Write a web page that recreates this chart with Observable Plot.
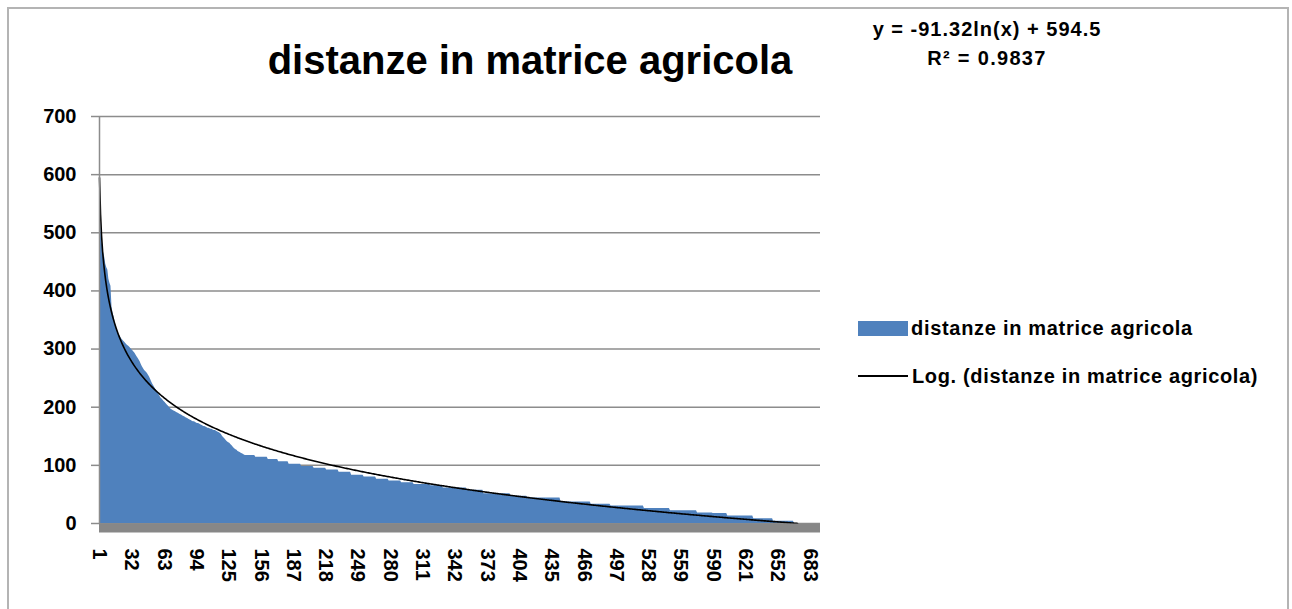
<!DOCTYPE html>
<html><head><meta charset="utf-8">
<script src="https://cdn.jsdelivr.net/npm/d3@7"></script>
<script src="https://cdn.jsdelivr.net/npm/@observablehq/plot@0.6"></script>
<style>
body{margin:0;background:#fff;}
#wrap{position:relative;width:1292px;height:609px;overflow:hidden;font-family:"Liberation Sans",Arial,sans-serif;font-weight:bold;color:#000;}
#frame{position:absolute;left:7px;top:7px;width:1282px;height:640px;border:2px solid #b4b4b4;box-sizing:border-box;}
#chart{position:absolute;left:0;top:0;}
.t{position:absolute;white-space:nowrap;}
#title{left:0;width:1060px;text-align:center;top:37px;font-size:40px;line-height:46px;}
#eq1{left:837px;width:300px;text-align:center;top:17px;font-size:20px;line-height:24px;letter-spacing:1px;}
#eq2{left:837px;width:300px;text-align:center;top:46px;font-size:20px;line-height:24px;letter-spacing:1.3px;}
#sw{position:absolute;left:858px;top:321px;width:50px;height:15px;background:#4F81BD;}
#ln{position:absolute;left:858px;top:375px;width:50px;height:1.5px;background:#000;}
#lg1{left:911px;top:316px;font-size:20px;line-height:24px;letter-spacing:0.7px;}
#lg2{left:912px;top:364px;font-size:20px;line-height:24px;letter-spacing:0.65px;}
</style></head>
<body>
<div id="wrap">
  <div id="frame"></div>
  <div id="chart"></div>
  <div class="t" id="title"></div>
  <div class="t" id="eq1"></div>
  <div class="t" id="eq2"></div>
  <div id="sw"></div><div class="t" id="lg1"></div>
  <div id="ln"></div><div class="t" id="lg2"></div>
</div>
<script>
// ---- data ----
const titleText = "distanze in matrice agricola";
const seriesName = "distanze in matrice agricola";
const trendName = "Log. (distanze in matrice agricola)";
const equationText = "y = -91.32ln(x) + 594.5";
const r2Text = "R² = 0.9837";
const trendSlope = -91.32;
const trendIntercept = 594.5;
const categoryCount = 693;

// first 140 categories, one value each
const headValues = [
  533,520,487,478,465,458,446,440,436,420,413,408,372,362,355,346,338,333,328,324,
  321,318,316,314,312,310,308,306,305,303,
  301,299,297,295,293,290,287,284,281,278,
  274,270,267,264,262,260,258,255,252,248,
  244,240,237,234,231,228,225,222,219,216,
  214,212,210,208,206,204,202,200,198,196,
  195,194,193,192,191,190,189,188,187,186,
  185,184,183,182,181,180,179,178,177,176,
  175,175,174,173,172,172,171,170,169,168,
  167,167,166,165,164,164,163,162,162,161,
  160,160,159,158,157,156,155,153,
  150,148,146,144,142,140,139,138,136,134,132,130,128,127,126,124,123,122,121,120,119,118
];
// remaining categories as plateaus: value and how many categories share it
const tailValues = [117,114,110,106,102,98,95,92,88,83,80,76,73,70,67,65,61,57,51,47,44,37,33,30,26,22,18,17,13,8,4,0];
const tailCounts = [10,12,10,10,12,12,12,12,12,12,12,12,12,12,16,12,23,16,26,16,32,29,19,32,25,26,15,14,25,19,20,26];

const xTickLabels = [1,32,63,94,125,156,187,218,249,280,311,342,373,404,435,466,497,528,559,590,621,652,683];
const yTickLabels = [0,100,200,300,400,500,600,700];

// ---- build table ----
const data = [];
headValues.forEach(v => data.push({i: data.length + 1, v}));
tailValues.forEach((v, k) => { for (let j = 0; j < tailCounts[k]; j++) data.push({i: data.length + 1, v}); });
const trend = data.map(d => ({i: d.i, v: trendSlope * Math.log(d.i) + trendIntercept})).filter(d => d.v >= 0);

const font = '"Liberation Sans", Arial, sans-serif';
const chart = Plot.plot({
  width: 840, height: 600,
  marginLeft: 99, marginRight: 20, marginTop: 116, marginBottom: 77,
  x: {domain: [1, categoryCount]},
  y: {domain: [0, 700]},
  style: {fontFamily: font, fontSize: "20px", fontWeight: "bold", color: "#000", background: "transparent", overflow: "visible"},
  marks: [
    Plot.gridY(yTickLabels, {stroke: "#8c8c8c", strokeOpacity: 1, strokeWidth: 1.5}),
    Plot.areaY(data, {x: "i", y: "v", fill: "#4F81BD"}),
    Plot.lineY(trend, {x: "i", y: "v", stroke: "#000", strokeWidth: 1.6}),
    Plot.ruleY([0], {stroke: "#878787", strokeWidth: 9, dy: 4.5}),
    Plot.ruleX([1], {stroke: "#8c8c8c", strokeWidth: 1.5}),
    Plot.axisY(yTickLabels, {tickSize: 8, tickPadding: 15, stroke: "#8c8c8c", strokeWidth: 1.5, fill: "#000", label: null}),
    Plot.axisX(xTickLabels, {tickSize: 0, tickPadding: 25, tickRotate: 90, fill: "#000", label: null})
  ]
});
document.getElementById("chart").appendChild(chart);
document.getElementById("title").textContent = titleText;
document.getElementById("eq1").textContent = equationText;
document.getElementById("eq2").textContent = r2Text;
document.getElementById("lg1").textContent = seriesName;
document.getElementById("lg2").textContent = trendName;
</script>
</body></html>
